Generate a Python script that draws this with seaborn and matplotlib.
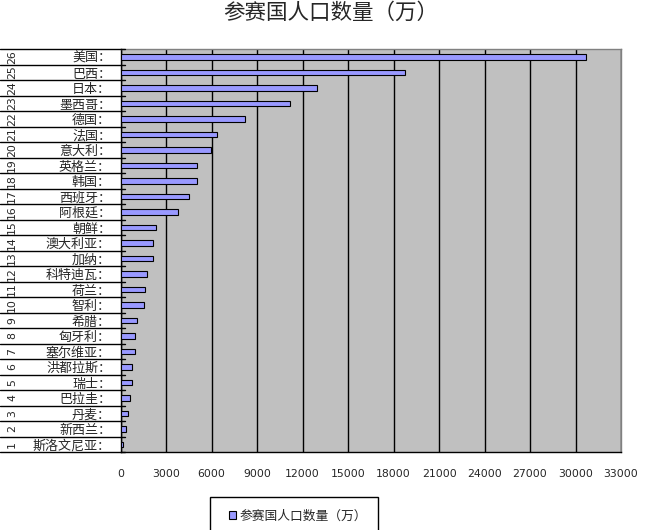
import matplotlib
matplotlib.use("Agg")
import matplotlib.pyplot as plt
import seaborn as sns
import pandas as pd
from matplotlib.patches import Patch, Rectangle
from matplotlib.lines import Line2D

countries = ["美国", "巴西", "日本", "墨西哥", "德国", "法国", "意大利", "英格兰", "韩国",
             "西班牙", "阿根廷", "朝鲜", "澳大利亚", "加纳", "科特迪瓦", "荷兰", "智利",
             "希腊", "匈牙利", "塞尔维亚", "洪都拉斯", "瑞士", "巴拉圭", "丹麦", "新西兰", "斯洛文尼亚"]
population = [30710, 18720, 12980, 11200, 8220, 6380, 5980, 5020, 5010,
              4530, 3760, 2350, 2150, 2110, 1760, 1620, 1560,
              1100, 960, 960, 770, 760, 630, 500, 380, 180]
ranks = list(range(26, 0, -1))
xticks = list(range(0, 33001, 3000))
title = "参赛国人口数量（万）"
series_name = "参赛国人口数量（万）"

df = pd.DataFrame({"country": [c + "：" for c in countries], "pop": population})

sns.set_style("white")
plt.rcParams['font.family'] = ['Noto Sans CJK SC', 'DejaVu Sans']

W, H = 661, 530
fig = plt.figure(figsize=(W / 100, H / 100), dpi=100)
left, right, top, bottom = 120.7, 621, 49.3, 452.3
ax = fig.add_axes([left / W, 1 - bottom / H, (right - left) / W, (bottom - top) / H])
ax.set_facecolor("#C0C0C0")

sns.barplot(data=df, x="pop", y="country", orient="h", color="#9999FF", saturation=1,
            edgecolor="black", linewidth=0.8, width=0.36, ax=ax, zorder=3)

ax.set_xlim(0, 33000)
ax.set_ylim(25.5, -0.5)
ax.set_xticks(xticks)
ax.set_xticklabels([str(t) for t in xticks], fontsize=7.8, family="DejaVu Sans")
ax.tick_params(axis="x", length=0, pad=12)
ax.tick_params(axis="y", length=0, pad=7, labelsize=9.4)
ax.grid(axis="x", color="black", linewidth=1, zorder=1)
ax.set_axisbelow(True)
ax.set_xlabel("")
ax.set_ylabel("")
for s in ["top", "right"]:
    ax.spines[s].set_color("#808080")
    ax.spines[s].set_linewidth(1)
for s in ["left", "bottom"]:
    ax.spines[s].set_color("black")
    ax.spines[s].set_linewidth(1)

tr = ax.get_yaxis_transform()
x0 = (0 - left) / (right - left)
xnum = (12 - left) / (right - left)
xtick_in = 4 / (right - left)
for i in range(27):
    y = i - 0.5
    ax.add_line(Line2D([x0, xtick_in], [y, y], transform=tr, color="black",
                       linewidth=1, clip_on=False, zorder=5))
for i, r in enumerate(ranks):
    ax.text(xnum, i, str(r), transform=tr, rotation=90, ha="center", va="center",
            fontsize=7.8, family="DejaVu Sans")

fig.text(331 / W, 1 - 13 / H, title, ha="center", va="center", fontsize=15.5)

fig.legend(handles=[Patch(facecolor="#9999FF", edgecolor="black", linewidth=0.8)],
           labels=[series_name], loc="center left",
           bbox_to_anchor=(229 / W, 1 - 516 / H), frameon=False,
           handlelength=0.55, handleheight=0.55, handletextpad=0.3,
           borderpad=0, borderaxespad=0, fontsize=9.2)
fig.add_artist(Rectangle((210 / W, -6 / H), 168 / W, (530 - 497 + 6) / H,
                         transform=fig.transFigure, fill=False,
                         edgecolor="black", linewidth=1))

fig.savefig("out.png", dpi=100, facecolor="white")
